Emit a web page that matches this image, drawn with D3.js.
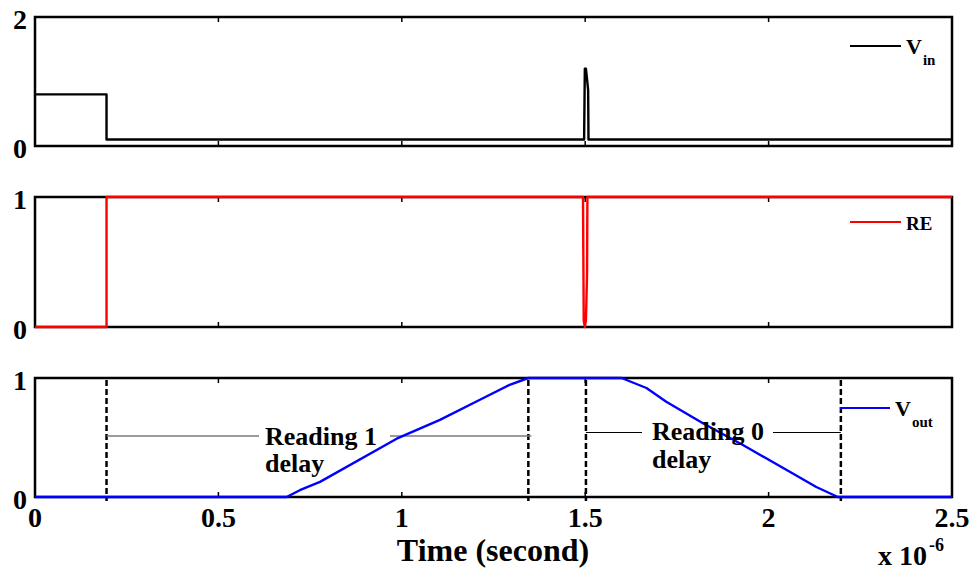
<!DOCTYPE html>
<html>
<head>
<meta charset="utf-8">
<script src="https://cdn.jsdelivr.net/npm/d3@7"></script>
<style>
  html, body { margin: 0; padding: 0; background: #fff; }
  svg { display: block; }
  text { font-family: "Liberation Serif", "Times New Roman", serif; font-weight: bold; fill: #000; }
</style>
</head>
<body>
<svg id="chart" width="980" height="572"></svg>
<script>
// Time axis in microseconds (x 10^-6 s)
const xTicks = [0, 0.5, 1, 1.5, 2, 2.5];
const xTickLabels = ["0", "0.5", "1", "1.5", "2", "2.5"];

// Input voltage (V_in): [time, value]
const vinT = [0, 0.195, 0.195, 1.497, 1.499, 1.502, 1.508, 1.509, 2.5];
const vinV = [0.8, 0.8, 0.1, 0.1, 1.2, 1.2, 0.87, 0.1, 0.1];

// Read enable (RE)
const reT = [0, 0.195, 0.195, 1.494, 1.496, 1.499, 1.502, 1.505, 1.506, 2.5];
const reV = [0, 0, 1, 1, 0.05, 0, 0.05, 0.4, 1, 1];

// Output voltage (V_out)
const voutT = [0, 0.686, 0.722, 0.777, 0.986, 1.104, 1.213, 1.294, 1.345, 1.599, 1.667, 1.721, 1.821, 1.93, 2.066, 2.13, 2.189, 2.5];
const voutV = [0, 0, 0.057, 0.127, 0.49, 0.648, 0.817, 0.943, 1, 1, 0.916, 0.80, 0.62, 0.437, 0.198, 0.084, 0, 0];

// Delay markers on the output panel
const markerT = [0.195, 1.345, 1.502, 2.197];

const svg = d3.select("#chart");
const x = d3.scaleLinear().domain([0, 2.5]).range([35, 952]);

const panels = [
  { top: 17, bottom: 146, domain: [0, 2], yTicks: [0, 2], t: vinT, v: vinV, color: "#000", name: "V", sub: "in",
    leg: { x1: 850, x2: 901, y: 46, tx: 906, fs: 22 } },
  { top: 197, bottom: 327, domain: [0, 1], yTicks: [0, 1], t: reT, v: reV, color: "#ff0000", name: "RE", sub: "",
    leg: { x1: 850, x2: 901, y: 222, tx: 906, fs: 19 } },
  { top: 378, bottom: 497, domain: [0, 1], yTicks: [0, 1], t: voutT, v: voutV, color: "#0000ff", name: "V", sub: "out",
    leg: { x1: 840, x2: 890, y: 408, tx: 895, fs: 22 } }
];

panels.forEach((p, i) => {
  const y = d3.scaleLinear().domain(p.domain).range([p.bottom, p.top]);
  p.y = y;
  const g = svg.append("g");

  // inward x ticks, top and bottom
  xTicks.slice(1, -1).forEach(tk => {
    g.append("line").attr("x1", x(tk)).attr("x2", x(tk))
      .attr("y1", p.bottom).attr("y2", p.bottom - 5)
      .attr("stroke", "#000").attr("stroke-width", 1.5);
    g.append("line").attr("x1", x(tk)).attr("x2", x(tk))
      .attr("y1", p.top).attr("y2", p.top + 5)
      .attr("stroke", "#000").attr("stroke-width", 1.5);
  });

  // frame
  g.append("rect")
    .attr("x", x(0)).attr("y", p.top)
    .attr("width", x(2.5) - x(0)).attr("height", p.bottom - p.top)
    .attr("fill", "none").attr("stroke", "#000").attr("stroke-width", 2.5);

  // y tick labels
  p.yTicks.forEach(tk => {
    g.append("text")
      .attr("x", 27).attr("y", y(tk) + 2)
      .attr("text-anchor", "end")
      .attr("dominant-baseline", "central")
      .attr("font-size", 28)
      .text(tk);
  });
});

// dashed delay markers in the output panel
const p3 = panels[2];
markerT.forEach(t => {
  svg.append("line")
    .attr("x1", x(t)).attr("x2", x(t))
    .attr("y1", p3.top + 2).attr("y2", p3.bottom + 4)
    .attr("stroke", "#000").attr("stroke-width", 2.5)
    .attr("stroke-dasharray", "6,3");
});

// annotation leader lines
const ann = svg.append("g");
ann.append("line").attr("x1", x(markerT[0])).attr("x2", 259).attr("y1", 436).attr("y2", 436)
  .attr("stroke", "#7a7a7a").attr("stroke-width", 1.5);
ann.append("line").attr("x1", 390).attr("x2", x(markerT[1]) + 3).attr("y1", 436).attr("y2", 436)
  .attr("stroke", "#7a7a7a").attr("stroke-width", 1.5);
ann.append("line").attr("x1", x(markerT[2])).attr("x2", 642).attr("y1", 432.5).attr("y2", 432.5)
  .attr("stroke", "#000").attr("stroke-width", 1);
ann.append("line").attr("x1", 773).attr("x2", x(markerT[3])).attr("y1", 432.5).attr("y2", 432.5)
  .attr("stroke", "#000").attr("stroke-width", 1);

// signal traces
const line = d3.line();
panels.forEach(p => {
  const pts = p.t.map((t, k) => [x(t), p.y(p.v[k])]);
  svg.append("path")
    .attr("d", line(pts))
    .attr("fill", "none")
    .attr("stroke", p.color)
    .attr("stroke-width", 2.4)
    .attr("stroke-linejoin", "round");
});

// annotation texts
const txt = [
  { s: "Reading 1", x: 265, y: 445 },
  { s: "delay", x: 265, y: 472 },
  { s: "Reading 0", x: 652, y: 440 },
  { s: "delay", x: 652, y: 468 }
];
txt.forEach(d => {
  svg.append("text").attr("x", d.x).attr("y", d.y).attr("font-size", 26).text(d.s);
});

// legends
panels.forEach(p => {
  const L = p.leg;
  svg.append("line").attr("x1", L.x1).attr("x2", L.x2).attr("y1", L.y).attr("y2", L.y)
    .attr("stroke", p.color).attr("stroke-width", 2);
  const t = svg.append("text").attr("x", L.tx).attr("y", L.y + 8).attr("font-size", L.fs);
  t.append("tspan").text(p.name);
  if (p.sub) {
    t.append("tspan").attr("dy", 11).attr("dx", 1).attr("font-size", 15).text(p.sub);
  }
});

// x tick labels
xTicks.forEach((tk, k) => {
  svg.append("text")
    .attr("x", x(tk)).attr("y", 527)
    .attr("text-anchor", "middle")
    .attr("font-size", 28)
    .text(xTickLabels[k]);
});

// axis title and exponent
svg.append("text")
  .attr("x", 493).attr("y", 561)
  .attr("text-anchor", "middle")
  .attr("font-size", 32)
  .text("Time (second)");

const ex = svg.append("text").attr("x", 878).attr("y", 565).attr("font-size", 28);
ex.append("tspan").text("x 10");
ex.append("tspan").attr("dy", -14).attr("dx", 2).attr("font-size", 18).text("-6");
</script>
</body>
</html>
